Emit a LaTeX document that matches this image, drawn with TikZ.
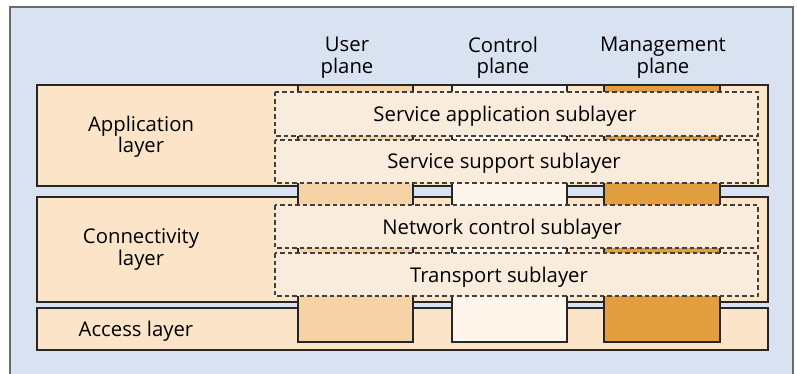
\documentclass[tikz,border=0pt]{standalone}
\usepackage{fontspec}
\setmainfont{Open Sans}
\definecolor{panelblue}{RGB}{217,226,241}
\definecolor{panelgray}{RGB}{105,105,105}
\definecolor{layerfill}{RGB}{251,228,200}
\definecolor{subfill}{RGB}{250,236,220}
\definecolor{userfill}{RGB}{245,211,166}
\definecolor{ctrlfill}{RGB}{255,246,235}
\definecolor{mgmtfill}{RGB}{227,158,64}
\tikzset{
  layerbox/.style={fill=layerfill, draw=black!85, line width=1.3pt},
  planebox/.style={draw=black!85, line width=1.3pt},
  subbox/.style={fill=subfill, draw=black!75, line width=1.2pt, dash pattern=on 4.5pt off 3pt},
  lbl/.style={align=center, inner sep=0pt}
}
\begin{document}
\begin{tikzpicture}[x=1pt,y=-1pt,font=\fontsize{20.3}{21.5}\selectfont]
  \useasboundingbox (0,0) rectangle (797,374);
  \begin{scope}
    \clip (0,0) rectangle (797,374);
    \filldraw[fill=panelblue, draw=panelgray, line width=2pt] (10,7) rectangle (793,390);
  \end{scope}
  % layers
  \filldraw[layerbox] (37,85) rectangle (768,186);
  \filldraw[layerbox] (37,197) rectangle (768,302);
  \filldraw[layerbox] (37,308) rectangle (768,350);
  % planes
  \filldraw[planebox, fill=userfill] (298,85) rectangle (413,342);
  \filldraw[planebox, fill=ctrlfill] (452,85) rectangle (567,342);
  \filldraw[planebox, fill=mgmtfill] (604,85) rectangle (720,342);
  % sublayers
  \filldraw[subbox] (275,92) rectangle (758,136);
  \filldraw[subbox] (275,140) rectangle (758,183);
  \filldraw[subbox] (275,205) rectangle (758,248);
  \filldraw[subbox] (275,253) rectangle (758,296);
  % texts
  \node[lbl] (user) at (347,57.5) {User\\plane};
  \node[lbl] (ctrl) at (503,57.5) {Control\\plane};
  \node[lbl] (mgmt) at (663,57.5) {Management\\plane};
  \node[lbl] (app) at (141,136.5) {Application\\layer};
  \node[lbl] (conn) at (141,249.5) {Connectivity\\layer};
  \node[lbl] (acc) at (136,331.5) {Access layer};
  \node[lbl] (sapp) at (505,116.5) {Service application sublayer};
  \node[lbl] (ssup) at (504,163.5) {Service support sublayer};
  \node[lbl] (nctl) at (502,229.5) {Network control sublayer};
  \node[lbl] (trans) at (499,277) {Transport sublayer};
\end{tikzpicture}
\end{document}
